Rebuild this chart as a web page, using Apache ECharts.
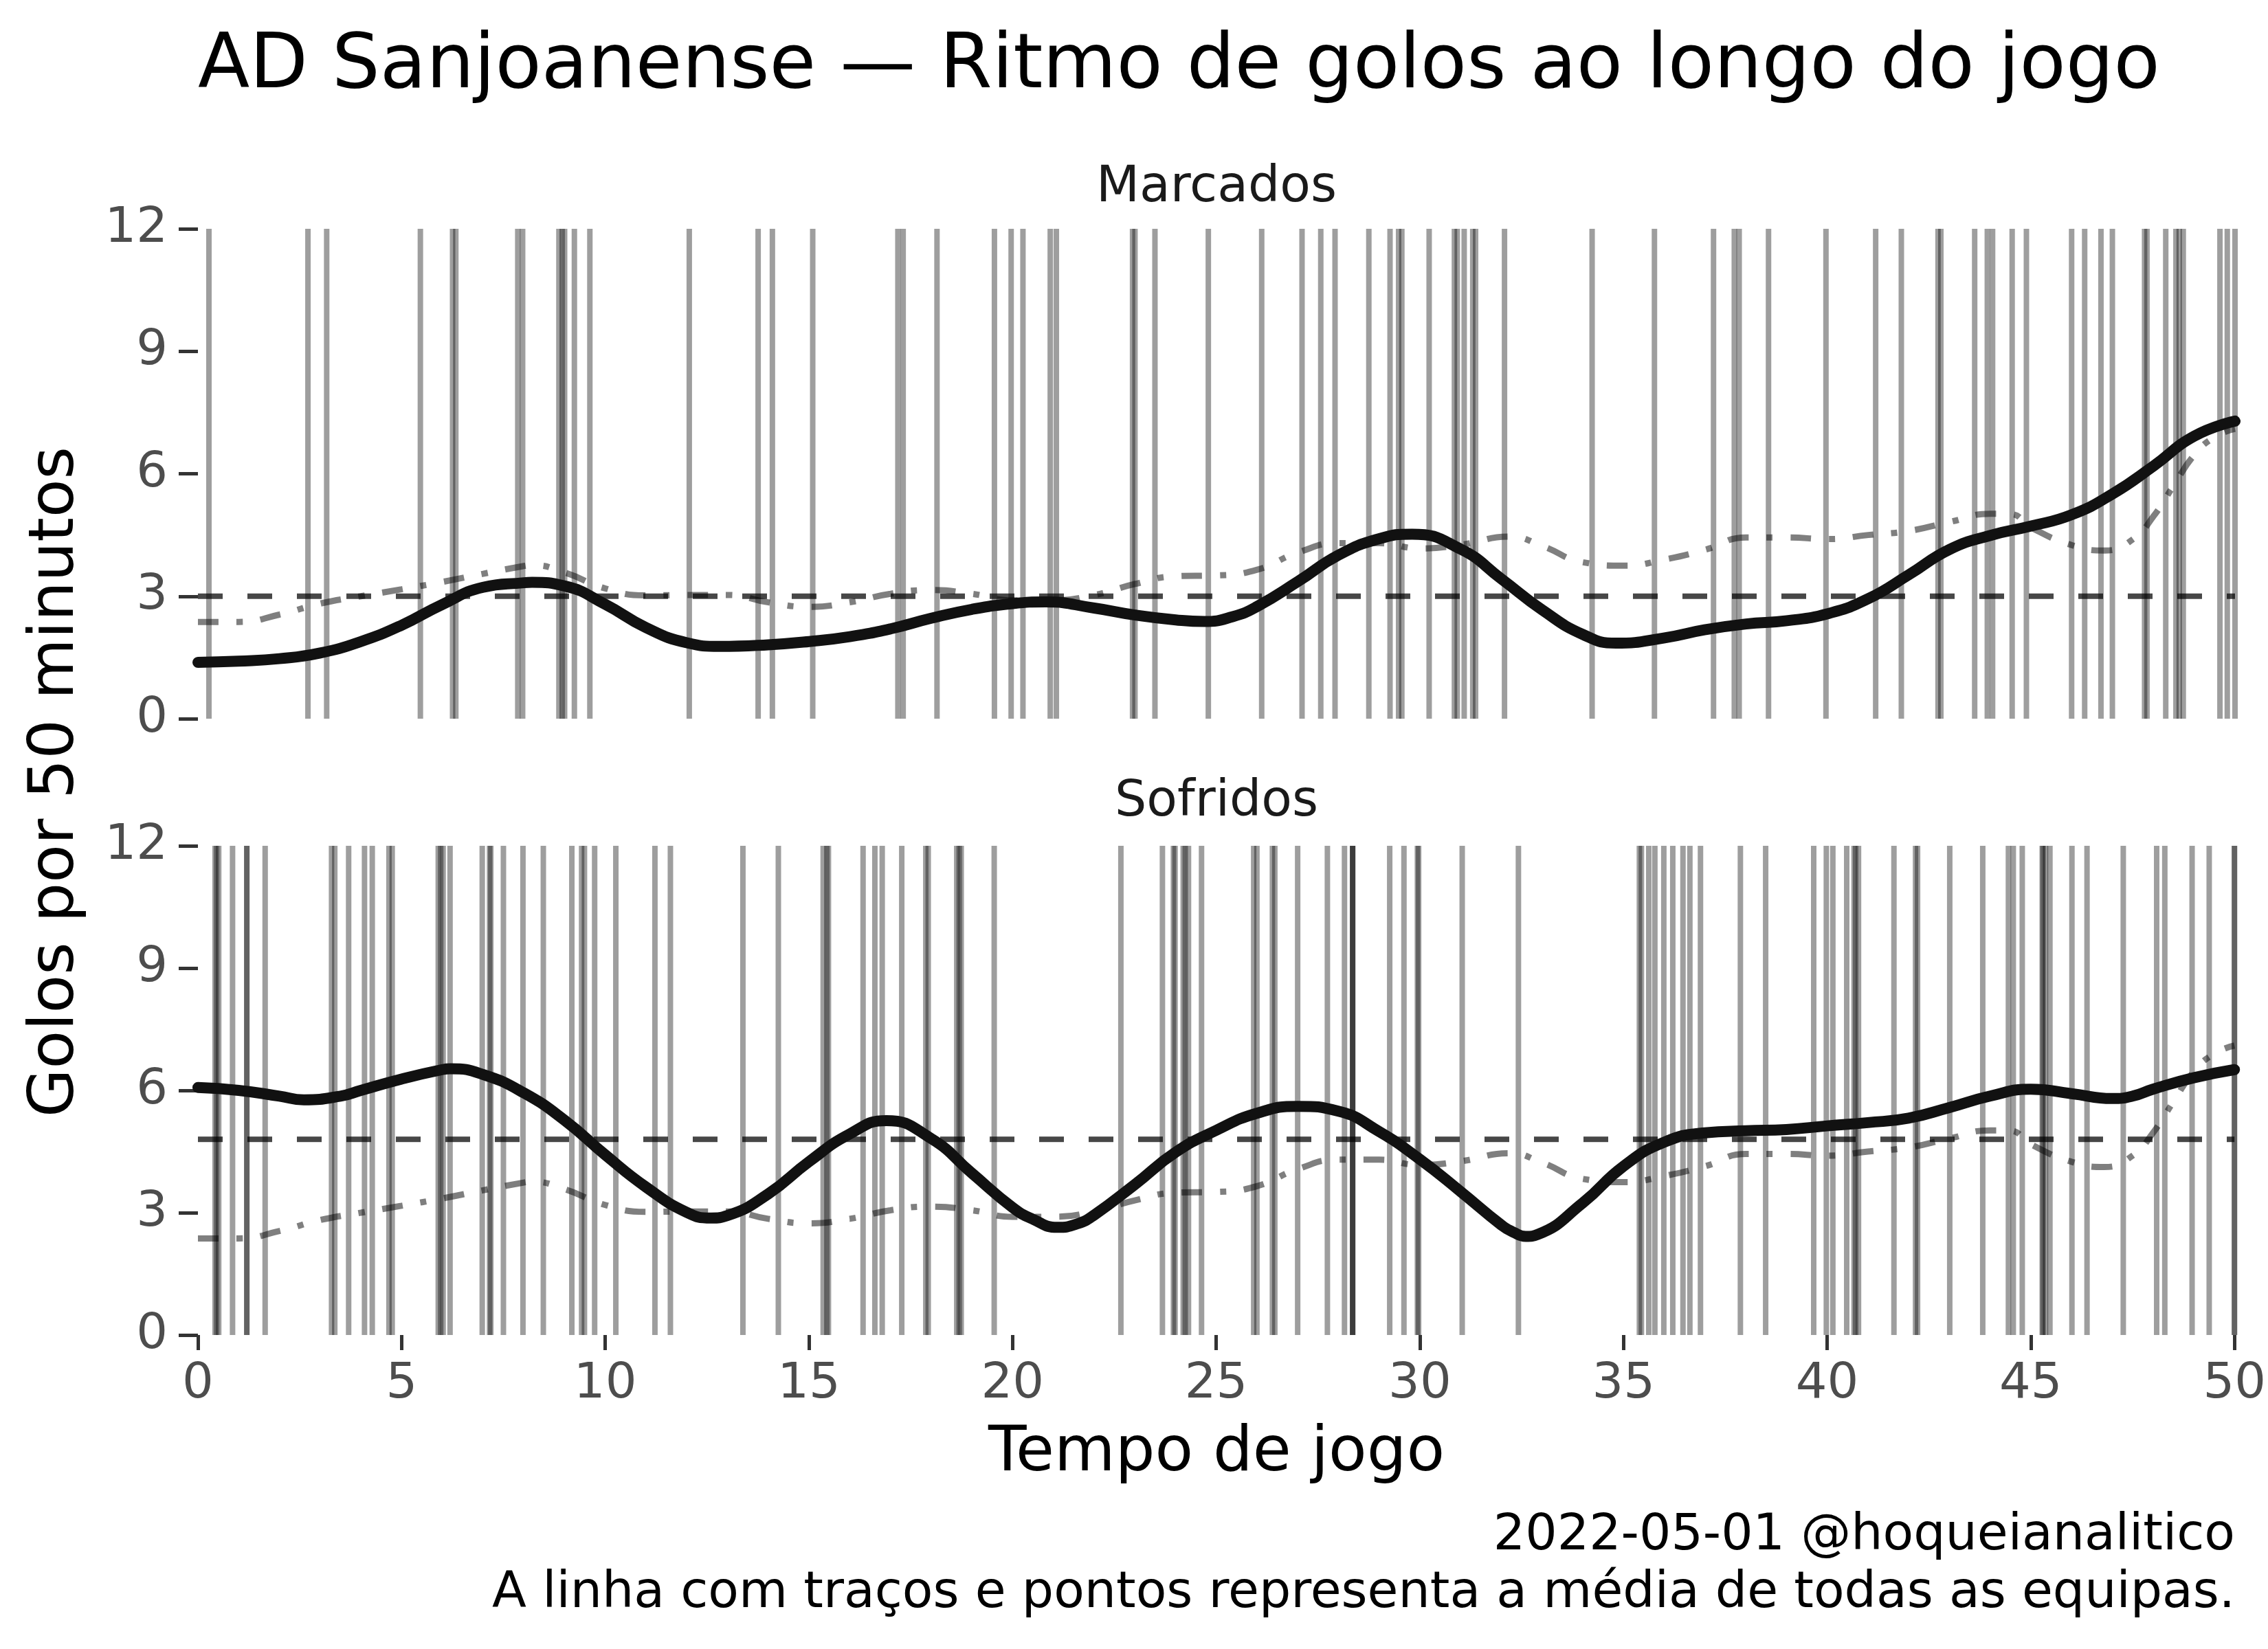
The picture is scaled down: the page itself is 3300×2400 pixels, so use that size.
<!DOCTYPE html>
<html>
<head>
<meta charset="utf-8">
<script src="https://cdn.jsdelivr.net/npm/echarts@6/dist/echarts.min.js"></script>
<style>
html,body{margin:0;padding:0;background:#fff;}
#chart{width:3300px;height:2400px;}
</style>
</head>
<body>
<div id="chart"></div>
<script>
// ---- data ----
const TITLE = "AD Sanjoanense \u2014 Ritmo de golos ao longo do jogo";
const PANEL_LABELS = ["Marcados", "Sofridos"];
const X_TICKS = [0, 5, 10, 15, 20, 25, 30, 35, 40, 45, 50];
const Y_TICKS = [0, 3, 6, 9, 12];

// goal minutes (vertical rug lines)
const goalsFor = [0.27, 2.70, 3.16, 5.46, 6.25, 6.33, 7.85, 7.97, 8.86, 8.94, 9.0, 9.24, 9.62, 12.06,
  13.75, 14.10, 15.09, 17.18, 17.31, 18.14, 19.55, 19.96, 20.25, 20.92, 21.07, 22.94, 23.0, 23.49, 24.8,
  26.11, 27.10, 27.56, 27.91, 28.74, 29.26, 29.47, 29.55, 30.22, 30.84, 30.91, 31.08, 31.29, 31.36, 32.07, 34.22, 35.75, 37.2,
  37.71, 37.83, 38.55, 39.96, 41.18, 41.81, 42.71, 42.78, 43.61, 43.92, 44.05, 44.53, 44.88, 45.99, 46.31, 46.71, 46.99,
  47.78, 47.84, 48.30, 48.55, 48.63, 48.73, 49.63, 49.81, 50.0];

const goalsAgainst = [0.42, 0.46, 0.51, 0.85, 1.20, 1.20, 1.65, 3.28, 3.36, 3.70, 4.09, 4.28, 4.69, 4.77, 5.90, 5.96, 6.02, 6.19,
  6.98, 7.16, 7.19, 7.50, 7.98, 8.48, 9.18, 9.42, 9.49, 9.74, 10.26, 11.22, 11.60,
  13.38, 14.25, 15.35, 15.44, 15.48, 16.33, 16.62, 16.80, 17.28, 17.87, 17.93, 18.63, 18.69, 18.74, 19.55, 22.66, 23.68, 23.95, 23.99,
  24.19, 24.24, 24.32, 24.64,
  25.92, 26.00, 26.38, 26.44, 27.00, 27.73, 28.15, 28.35, 28.35, 28.35, 29.26, 29.61, 29.94, 29.97, 31.04, 32.42, 35.39, 35.44,
  35.62, 35.77, 35.99, 36.21, 36.46, 36.63, 36.89,
  37.87, 38.49, 39.67, 39.98, 40.14, 40.48, 40.66, 40.70, 40.77, 41.64, 42.17, 42.22, 43.01, 43.82, 44.45, 44.57, 44.79,
  45.28, 45.30, 45.36, 45.47, 46.01, 46.38, 47.27, 48.09, 48.29, 48.96, 49.38, 50.0, 50.0];

// team rate curves (goals per 50 minutes)
const forMinutes = [0,1,2,3,4,5,6,7,8,8.2,9,10,11,12,12.8,14,15,16,17,18,19,20,20.8,22,23,24,24.7,25.4,26,27,28,29,29.8,31,32,33,34,34.8,36,37,38,39,40,41,42,43,44,45,46,47,48,49,50];
const forRate = [1.38,1.41,1.47,1.61,1.89,2.29,2.80,3.22,3.33,3.34,3.25,2.80,2.23,1.86,1.77,1.81,1.89,2.01,2.20,2.46,2.68,2.82,2.86,2.71,2.54,2.42,2.38,2.50,2.75,3.36,4.01,4.41,4.52,4.15,3.42,2.66,2.06,1.85,1.98,2.18,2.32,2.40,2.57,2.94,3.53,4.15,4.49,4.72,5.00,5.51,6.19,6.92,7.29];

const againstMinutes = [0,1,2,2.6,3.5,4,5,6,6.2,7,8,9,10,11,12,12.6,13,14,15,16,16.9,18,19,20,20.5,21.1,21.6,22,23,24,25,26,27,28,29,30,31,32,32.3,32.6,32.9,34,35,36,37,38,39,40,41,42,43,44,45,46,47,47.5,48,49,50];
const againstRate = [6.07,6.00,5.86,5.77,5.86,6.00,6.28,6.51,6.53,6.39,5.94,5.27,4.42,3.63,3.01,2.87,2.93,3.46,4.25,4.93,5.26,4.82,3.97,3.13,2.84,2.64,2.73,2.94,3.69,4.48,5.02,5.44,5.61,5.49,4.99,4.31,3.52,2.70,2.52,2.42,2.47,3.24,4.14,4.73,4.96,5.01,5.04,5.13,5.21,5.32,5.58,5.86,6.03,5.92,5.80,5.86,6.03,6.31,6.51];

// league average of all teams (dash-dot)
const leagueMinutes = [0,1,2,3,4,5,6,7,8,8.2,9,10,11,12,13,14,15,16,17,18,19,20,21,22,23,24,25,26,27,28,29,30,31,32.2,33,34,35,36,37,38,39,40,41,42,43,44,44.5,45,46,46.8,47.5,48,48.5,49,49.5,50];
const leagueRate = [2.37,2.37,2.55,2.82,3.00,3.17,3.35,3.55,3.74,3.76,3.58,3.19,3.02,3.03,3.03,2.85,2.74,2.85,3.06,3.15,3.06,2.90,2.90,3.03,3.30,3.49,3.51,3.65,4.07,4.30,4.30,4.17,4.26,4.46,4.23,3.83,3.75,3.90,4.14,4.44,4.44,4.40,4.50,4.60,4.82,5.02,5.01,4.68,4.25,4.12,4.40,4.96,5.72,6.46,6.90,7.10];

// team mean rate (dashed horizontal)
const teamMeanFor = 3.0;
const teamMeanAgainst = 4.8;

// ---- chart ----
const FONT = "DejaVu Sans";
const chart = echarts.init(document.getElementById('chart'), null, {renderer: 'canvas'});

function pairs(xs, ys) { return xs.map((x, i) => [x, ys[i]]); }

function rugSeries(times, idx) {
  return {
    type: 'custom', xAxisIndex: idx, yAxisIndex: idx, silent: true, z: 1,
    data: times.map(t => [t, 0]),
    encode: {x: 0, y: 1},
    renderItem: function (params, api) {
      const t = api.value(0);
      const p0 = api.coord([t, 0]);
      const p1 = api.coord([t, 12]);
      return {
        type: 'line',
        shape: {x1: p0[0], y1: p0[1], x2: p1[0], y2: p1[1]},
        style: {stroke: 'rgba(0,0,0,0.38)', lineWidth: 8}
      };
    }
  };
}

function leagueSeries(idx) {
  return {
    type: 'line', xAxisIndex: idx, yAxisIndex: idx, z: 2, silent: true,
    data: pairs(leagueMinutes, leagueRate), smooth: 0.5, showSymbol: false,
    lineStyle: {color: 'rgba(0,0,0,0.5)', width: 9, type: [30, 26, 9, 26]}
  };
}

function meanSeries(v, idx) {
  return {
    type: 'line', xAxisIndex: idx, yAxisIndex: idx, z: 3, silent: true,
    data: [[0, v], [50, v]], showSymbol: false,
    lineStyle: {color: 'rgba(0,0,0,0.72)', width: 8, type: [36, 36]}
  };
}

function teamSeries(xs, ys, idx) {
  return {
    type: 'line', xAxisIndex: idx, yAxisIndex: idx, z: 4, silent: true,
    data: pairs(xs, ys), smooth: 0.5, showSymbol: false,
    lineStyle: {color: '#111111', width: 16, cap: 'round', join: 'round'}
  };
}

function xAxisDef(idx, showLabels) {
  return {
    gridIndex: idx, type: 'value', min: X_TICKS[0], max: X_TICKS[X_TICKS.length - 1], interval: 5,
    axisLine: {show: false},
    axisTick: {show: showLabels, length: 22, lineStyle: {color: '#333333', width: 5}},
    axisLabel: {show: showLabels, fontSize: 72, color: '#4d4d4d', fontFamily: FONT, margin: 36},
    splitLine: {show: false}
  };
}

function yAxisDef(idx) {
  return {
    gridIndex: idx, type: 'value', min: Y_TICKS[0], max: Y_TICKS[Y_TICKS.length - 1], interval: 3,
    axisLine: {show: false},
    axisTick: {show: true, length: 28, lineStyle: {color: '#333333', width: 5}},
    axisLabel: {show: true, fontSize: 72, color: '#4d4d4d', fontFamily: FONT, margin: 44},
    splitLine: {show: false}
  };
}

function txt(text, x, y, size, color, align, rot) {
  return {
    type: 'text', x: x, y: y, rotation: rot || 0, silent: true,
    style: {
      text: text, fill: color, fontSize: size, fontFamily: FONT,
      textAlign: align, align: align, textVerticalAlign: 'middle', verticalAlign: 'middle'
    }
  };
}

const option = {
  animation: false,
  backgroundColor: '#ffffff',
  grid: [
    {left: 288, top: 333, width: 2964, height: 713},
    {left: 288, top: 1231, width: 2964, height: 712}
  ],
  xAxis: [xAxisDef(0, false), xAxisDef(1, true)],
  yAxis: [yAxisDef(0), yAxisDef(1)],
  series: [
    rugSeries(goalsFor, 0),
    rugSeries(goalsAgainst, 1),
    leagueSeries(0),
    leagueSeries(1),
    meanSeries(teamMeanFor, 0),
    meanSeries(teamMeanAgainst, 1),
    teamSeries(forMinutes, forRate, 0),
    teamSeries(againstMinutes, againstRate, 1)
  ],
  graphic: [
    txt(TITLE, 288, 98, 110, '#000000', 'left'),
    txt(PANEL_LABELS[0], 1770, 274, 73, '#1a1a1a', 'center'),
    txt(PANEL_LABELS[1], 1770, 1168, 73, '#1a1a1a', 'center'),
    txt('Tempo de jogo', 1770, 2116, 91, '#000000', 'center'),
    txt('Golos por 50 minutos', 82, 1138, 91, '#000000', 'center', Math.PI / 2),
    txt('2022-05-01 @hoqueianalitico', 3252, 2236, 73, '#000000', 'right'),
    txt('A linha com tra\u00e7os e pontos representa a m\u00e9dia de todas as equipas.', 3252, 2320, 73, '#000000', 'right')
  ]
};
chart.setOption(option);
</script>
</body>
</html>
